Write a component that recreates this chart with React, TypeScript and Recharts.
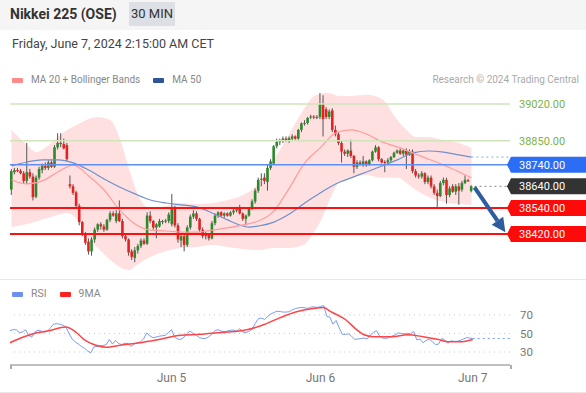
import React from "react";
import { Area, Bar, ComposedChart, Line, ReferenceLine, XAxis, YAxis } from "recharts";

const FONT = "Roboto, 'Liberation Sans', Arial, sans-serif";
const SLOTS = 162; // candle slots incl. empty space to the right of the last bar
const dayTicks = [52, 100, 149];
const dayLabels = ["Jun 5", "Jun 6", "Jun 7"];

// [open, high, low, close]
const ohlc: [number, number, number, number][] = [
  [38625, 38720, 38600, 38710], [38705, 38725, 38695, 38715], [38715, 38725, 38705, 38712], [38712, 38720, 38695, 38700],
  [38700, 38710, 38655, 38665], [38665, 38840, 38650, 38705], [38705, 38720, 38675, 38685], [38685, 38700, 38575, 38590],
  [38592, 38690, 38585, 38680], [38680, 38730, 38670, 38720], [38715, 38745, 38700, 38735], [38735, 38750, 38715, 38725],
  [38725, 38760, 38715, 38750], [38750, 38760, 38725, 38730], [38730, 38830, 38725, 38820], [38820, 38885, 38810, 38840],
  [38840, 38885, 38820, 38835], [38835, 38860, 38810, 38815], [38830, 38840, 38755, 38765], [38650, 38690, 38630, 38640],
  [38640, 38650, 38600, 38610], [38612, 38620, 38540, 38550], [38550, 38560, 38460, 38475], [38475, 38480, 38410, 38420],
  [38420, 38430, 38370, 38380], [38385, 38400, 38325, 38340], [38340, 38405, 38320, 38395], [38395, 38450, 38380, 38440],
  [38440, 38470, 38430, 38465], [38465, 38475, 38440, 38455], [38455, 38465, 38430, 38440], [38440, 38490, 38435, 38485],
  [38485, 38525, 38475, 38515], [38515, 38525, 38500, 38505], [38480, 38530, 38470, 38515], [38515, 38575, 38475, 38480],
  [38480, 38490, 38400, 38410], [38410, 38420, 38385, 38395], [38395, 38400, 38320, 38335], [38340, 38350, 38300, 38315],
  [38310, 38360, 38290, 38345], [38345, 38375, 38330, 38365], [38365, 38400, 38355, 38390], [38390, 38400, 38370, 38375],
  [38375, 38520, 38370, 38505], [38505, 38525, 38470, 38480], [38480, 38485, 38440, 38450], [38450, 38470, 38400, 38465],
  [38455, 38490, 38450, 38480], [38475, 38485, 38465, 38480], [38478, 38490, 38470, 38482], [38480, 38520, 38470, 38510],
  [38465, 38605, 38455, 38540], [38540, 38550, 38450, 38460], [38460, 38470, 38380, 38395], [38390, 38420, 38360, 38410],
  [38410, 38420, 38340, 38370], [38370, 38460, 38360, 38450], [38450, 38510, 38440, 38500], [38500, 38530, 38490, 38515],
  [38515, 38525, 38480, 38490], [38490, 38495, 38430, 38440], [38440, 38450, 38400, 38410], [38410, 38430, 38395, 38420],
  [38420, 38425, 38390, 38400], [38400, 38480, 38395, 38470], [38470, 38515, 38460, 38505], [38505, 38525, 38495, 38520],
  [38520, 38525, 38500, 38505], [38505, 38520, 38495, 38515], [38515, 38520, 38500, 38505], [38505, 38525, 38500, 38520],
  [38520, 38535, 38510, 38528], [38528, 38545, 38520, 38535], [38540, 38555, 38510, 38515], [38515, 38520, 38480, 38490],
  [38490, 38510, 38460, 38505], [38505, 38545, 38500, 38540], [38540, 38580, 38530, 38570], [38570, 38630, 38560, 38620],
  [38620, 38680, 38610, 38670], [38670, 38700, 38640, 38675], [38680, 38700, 38650, 38665], [38660, 38740, 38620, 38725],
  [38725, 38765, 38715, 38755], [38745, 38830, 38740, 38825], [38825, 38860, 38815, 38845], [38845, 38860, 38830, 38848],
  [38848, 38870, 38840, 38860], [38860, 38870, 38845, 38850], [38850, 38870, 38840, 38862], [38860, 38880, 38850, 38870],
  [38870, 38875, 38855, 38860], [38860, 38905, 38855, 38900], [38900, 38935, 38890, 38930], [38930, 38945, 38920, 38932],
  [38932, 38960, 38925, 38955], [38958, 38970, 38950, 38962], [38962, 38968, 38950, 38958], [38958, 38968, 38950, 38960],
  [38960, 39070, 38950, 39020], [39020, 39060, 38870, 38950], [38995, 39005, 38950, 38960], [38960, 38995, 38950, 38985],
  [38990, 39000, 38890, 38900], [38900, 38920, 38870, 38880], [38880, 38890, 38830, 38840], [38840, 38850, 38750, 38800],
  [38800, 38810, 38780, 38790], [38790, 38810, 38775, 38805], [38805, 38855, 38770, 38780], [38780, 38785, 38700, 38730],
  [38730, 38760, 38720, 38750], [38750, 38760, 38735, 38740], [38740, 38780, 38730, 38755], [38755, 38760, 38730, 38740],
  [38740, 38765, 38735, 38760], [38760, 38805, 38755, 38800], [38800, 38830, 38795, 38820], [38820, 38825, 38755, 38765],
  [38765, 38770, 38745, 38750], [38752, 38760, 38705, 38750], [38750, 38770, 38740, 38760], [38760, 38780, 38750, 38775],
  [38775, 38800, 38770, 38795], [38795, 38810, 38790, 38805], [38805, 38815, 38785, 38790], [38790, 38810, 38780, 38805],
  [38805, 38815, 38720, 38785], [38785, 38810, 38780, 38800], [38800, 38810, 38700, 38710], [38710, 38720, 38680, 38690],
  [38690, 38700, 38675, 38685], [38685, 38710, 38675, 38700], [38700, 38705, 38650, 38660], [38660, 38690, 38650, 38680],
  [38680, 38690, 38630, 38640], [38640, 38650, 38600, 38610], [38610, 38625, 38545, 38595], [38595, 38665, 38590, 38655],
  [38655, 38680, 38645, 38670], [38670, 38680, 38560, 38600], [38600, 38640, 38590, 38630], [38640, 38650, 38610, 38615],
  [38615, 38650, 38600, 38640], [38640, 38655, 38555, 38620], [38625, 38665, 38615, 38655], [38655, 38690, 38650, 38670],
  [38668, 38675, 38660, 38665], [38618, 38645, 38612, 38640],
];

// [slot, value]
const ma20: [number, number][] = [
  [0, 38669], [5, 38651], [10, 38665], [15, 38706], [20, 38738], [25, 38688], [30, 38623], [35, 38531],
  [40, 38466], [45, 38438], [50, 38434], [55, 38429], [60, 38429], [65, 38438], [70, 38448], [75, 38462],
  [80, 38480], [85, 38526], [90, 38632], [95, 38748], [100, 38817], [105, 38886], [110, 38900], [115, 38881],
  [120, 38845], [125, 38822], [130, 38794], [135, 38766], [140, 38738], [145, 38706], [149, 38679],
];

const ma50: [number, number][] = [
  [0, 38734], [5, 38752], [10, 38762], [15, 38762], [20, 38748], [25, 38715], [30, 38674], [35, 38637],
  [40, 38605], [45, 38577], [50, 38563], [55, 38554], [60, 38545], [65, 38517], [70, 38485], [75, 38457],
  [77, 38452], [80, 38457], [85, 38475], [90, 38512], [95, 38563], [100, 38609], [105, 38651], [110, 38679],
  [115, 38706], [120, 38734], [125, 38762], [130, 38794], [135, 38803], [140, 38798], [145, 38785], [149, 38775],
];

// [slot, lower, upper]
const bollinger: [number, number, number][] = [
  [0, 38452, 38900], [5, 38466, 38831], [8, 38478, 38798], [12, 38495, 38831], [15, 38508, 38868],
  [18, 38517, 38900], [22, 38475, 38930], [25, 38402, 38951], [28, 38356, 38960], [32, 38300, 38946],
  [35, 38268, 38863], [38, 38254, 38725], [41, 38282, 38600], [45, 38314, 38540], [50, 38342, 38549],
  [55, 38356, 38563], [60, 38360, 38558], [65, 38369, 38563], [70, 38360, 38577], [75, 38351, 38600],
  [80, 38346, 38651], [85, 38356, 38762], [90, 38356, 38882], [95, 38374, 39002], [98, 38429, 39057],
  [100, 38475, 39066], [102, 38540, 39071], [104, 38609, 39066], [106, 38655, 39057], [110, 38679, 39057],
  [115, 38692, 39062], [120, 38679, 39043], [125, 38679, 38946], [128, 38655, 38900], [131, 38623, 38868],
  [135, 38591, 38868], [140, 38568, 38854], [145, 38558, 38840], [149, 38554, 38817],
];

const rsi: number[] = [
  53, 54, 54, 51, 51.5, 54, 48, 46, 51.5, 53.5, 52.5, 51.5, 52, 56, 60, 60.5, 60, 59, 57, 50,
  44, 41, 38.5, 36, 34, 31, 29, 35.5, 36, 36.5, 37, 38, 43.5, 38.5, 42.5, 39, 38, 39.5, 39, 36,
  38.5, 40, 41, 44, 50.5, 47.5, 45.5, 46, 47, 47.5, 48, 51, 54, 46, 44, 43.5, 46, 50, 52.5, 50,
  48, 45.5, 44.5, 44.5, 46.5, 49, 53, 54, 52.5, 52, 52.5, 53.5, 53.5, 52.5, 55, 51.5, 51, 52.5, 54.5, 61,
  66, 66.5, 65, 68.5, 71, 72.5, 74, 73.5, 73, 73, 73.5, 75.5, 77, 77.5, 78, 77.5, 77, 78.5, 78.5, 78,
  79, 80, 68.5, 67.5, 60, 64, 56, 49, 49, 49.5, 47, 43.5, 44, 44.5, 45, 44, 48, 51, 53, 47,
  45, 44.5, 45.5, 47, 48.5, 50.5, 50, 49.5, 50, 49.5, 52, 43, 44, 40, 42.5, 44, 41, 38, 38.5, 44.5,
  43, 39.5, 42, 41.5, 41.5, 42.5, 44, 45.5, 45, 44.5,
];

const rsiMa9: [number, number][] = [
  [0, 40], [5, 47], [9, 51], [12, 52.5], [18, 57], [21, 52], [24, 43], [28, 37], [31, 35], [36, 37.5],
  [42, 40], [48, 43.5], [55, 48], [61, 49], [68, 51], [74, 52.5], [81, 58.5], [87, 67], [92, 73], [96, 76],
  [101, 78], [103, 74], [108, 65], [112, 53], [114, 48.5], [117, 46.5], [123, 46.5], [128, 48.5], [133, 46.5],
  [138, 43.5], [141, 41], [145, 41], [149, 43.5],
];

const levels = [
  { v: 39020, line: "#cfe4b8", text: "#7cb342", box: "" },
  { v: 38850, line: "#cfe4b8", text: "#7cb342", box: "" },
  { v: 38740, line: "#5b8ff0", text: "#fff", box: "#2b6ef5" },
  { v: 38640, line: "", text: "#fff", box: "#333333" },
  { v: 38540, line: "#ff1010", text: "#fff", box: "#ff0a0a" },
  { v: 38420, line: "#ff1010", text: "#fff", box: "#ff0a0a" },
];

type Row = { i: number; [k: string]: any };
const rows: Row[] = Array.from({ length: SLOTS }, (_, i) => {
  const c = ohlc[i];
  return {
    i,
    range: c ? [c[2], c[1]] : null,
    o: c ? c[0] : null,
    h: c ? c[1] : null,
    l: c ? c[2] : null,
    c: c ? c[3] : null,
    rsi: i < rsi.length ? rsi[i] : null,
    ma20: null,
    ma50: null,
    band: null,
    rsiMa: null,
  };
});
ma20.forEach(([i, v]) => (rows[i].ma20 = v));
ma50.forEach(([i, v]) => (rows[i].ma50 = v));
bollinger.forEach(([i, lo, hi]) => (rows[i].band = [lo, hi]));
rsiMa9.forEach(([i, v]) => (rows[i].rsiMa = v));

function Candle(props: any) {
  const { x, y, width, height, payload } = props;
  if (!payload || payload.o == null) return null;
  const { o, h, l, c } = payload;
  const k = h - l > 0 ? height / (h - l) : 0;
  const cx = x + width / 2;
  const top = y + (h - Math.max(o, c)) * k;
  const bot = y + (h - Math.min(o, c)) * k;
  return (
    <g>
      <line x1={cx} x2={cx} y1={y} y2={y + height} stroke="#555" strokeWidth={1} />
      <rect x={cx - 1.3} y={top} width={2.6} height={Math.max(bot - top, 1)} fill={c >= o ? "#2c8a2c" : "#e32222"} />
    </g>
  );
}

function PriceTick(props: any) {
  const { x, y, payload } = props;
  const lv = levels.find((l) => l.v === payload.value);
  if (!lv) return null;
  const label = payload.value.toFixed(2);
  return (
    <g>
      {lv.box && (
        <path d={`M${x - 3},${y} L${x + 1},${y - 8} L586,${y - 8} L586,${y + 8} L${x + 1},${y + 8} Z`} fill={lv.box} />
      )}
      <text x={x + 9} y={y} dy={4} fill={lv.text} fontSize={11} fontFamily={FONT}>
        {label}
      </text>
    </g>
  );
}

function Arrow(props: any) {
  const { x1, y1, x2, y2 } = props;
  const ang = Math.atan2(y2 - y1, x2 - x1);
  const len = 14;
  const bx = x2 - len * Math.cos(ang);
  const by = y2 - len * Math.sin(ang);
  const px = 7 * Math.sin(ang);
  const py = -7 * Math.cos(ang);
  return (
    <g>
      <line x1={x1} y1={y1} x2={bx} y2={by} stroke="#2f5c9e" strokeWidth={4} />
      <path d={`M${x2},${y2} L${bx + px},${by + py} L${bx - px},${by - py} Z`} fill="#2f5c9e" />
    </g>
  );
}

const swatch = (color: string) => (
  <span style={{ display: "inline-block", width: 11, height: 5, background: color, borderRadius: 1, marginRight: 8, verticalAlign: "middle" }} />
);

export default function App() {
  return (
    <div style={{ position: "absolute", left: 0, top: 0, width: 586, height: 393, background: "#fff", fontFamily: FONT, overflow: "hidden" }}>
      <div style={{ position: "absolute", left: 0, top: 0, width: 586, height: 30, background: "#f5f5f5" }} />
      <div style={{ position: "absolute", left: 10, top: 6, fontSize: 14, fontWeight: 700, color: "#333" }}>Nikkei 225 (OSE)</div>
      <div style={{ position: "absolute", left: 129, top: 2, width: 46, height: 24, background: "#dcdfe4", color: "#333", fontSize: 13, lineHeight: "24px", textAlign: "center" }}>30 MIN</div>
      <div style={{ position: "absolute", left: 12, top: 36, fontSize: 12.5, color: "#444" }}>Friday, June 7, 2024 2:15:00 AM CET</div>

      <div style={{ position: "absolute", left: 12, top: 74, fontSize: 10, color: "#888", whiteSpace: "nowrap" }}>
        {swatch("#ff8a8a")}MA 20 + Bollinger Bands
        <span style={{ display: "inline-block", width: 13 }} />
        {swatch("#2f5597")}MA 50
      </div>
      <div style={{ position: "absolute", right: 7, top: 74, fontSize: 10, color: "#aaa" }}>Research © 2024 Trading Central</div>

      <div style={{ position: "absolute", left: 0, top: 82 }}>
        <ComposedChart width={586} height={203} data={rows} margin={{ top: 10, right: 0, bottom: 10, left: 10 }}>
          <XAxis dataKey="i" type="category" hide />
          <YAxis
            orientation="right"
            domain={[38231, 39075]}
            allowDataOverflow
            ticks={levels.map((l) => l.v)}
            interval={0}
            width={76}
            tickSize={0}
            tickMargin={0}
            axisLine={false}
            tickLine={false}
            tick={(p: any) => <PriceTick {...p} />}
          />
          <Area dataKey="band" type="monotone" stroke="none" fill="#ff0000" fillOpacity={0.12} connectNulls isAnimationActive={false} />
          <Line dataKey="ma50" type="monotone" stroke="#6f8fcc" strokeWidth={1.2} dot={false} connectNulls isAnimationActive={false} />
          <Line dataKey="ma20" type="monotone" stroke="#ff9c9c" strokeWidth={1.2} dot={false} connectNulls isAnimationActive={false} />
          <Bar dataKey="range" shape={(p: any) => <Candle {...p} />} isAnimationActive={false} />
          {levels
            .filter((l) => l.line)
            .map((l) => (
              <ReferenceLine key={l.v} y={l.v} stroke={l.line} strokeWidth={l.box === "#ff0a0a" ? 2 : 1.5} />
            ))}
          <ReferenceLine segment={[{ x: 149, y: 38775 }, { x: 161, y: 38775 }]} stroke="#8aa6d8" strokeDasharray="2 3" />
          <ReferenceLine segment={[{ x: 150, y: 38640 }, { x: 161, y: 38640 }]} stroke="#888" strokeDasharray="2 3" />
          <ReferenceLine segment={[{ x: 150, y: 38635 }, { x: 160, y: 38428 }]} shape={(p: any) => <Arrow {...p} />} />
        </ComposedChart>
      </div>

      <div style={{ position: "absolute", left: 0, top: 279, width: 586, height: 1, background: "#e8e8e8" }} />
      <div style={{ position: "absolute", left: 12, top: 287, fontSize: 10.5, color: "#888", whiteSpace: "nowrap" }}>
        {swatch("#6d8ff0")}RSI
        <span style={{ display: "inline-block", width: 13 }} />
        {swatch("#ff2020")}9MA
      </div>

      <div style={{ position: "absolute", left: 0, top: 290 }}>
        <ComposedChart width={586} height={100} data={rows} margin={{ top: 10, right: 0, bottom: 0, left: 10 }}>
          <XAxis
            dataKey="i"
            type="category"
            ticks={dayTicks}
            interval={0}
            tickFormatter={(v: number) => dayLabels[dayTicks.indexOf(v)] ?? ""}
            tickLine={false}
            axisLine={{ stroke: "#aaa", strokeWidth: 1.5 }}
            tick={{ fill: "#777", fontSize: 12, fontFamily: FONT }}
            height={25}
          />
          <YAxis
            orientation="right"
            domain={[16, 86]}
            ticks={[30, 50, 70]}
            interval={0}
            width={76}
            tickSize={0}
            tickMargin={10}
            axisLine={false}
            tickLine={false}
            tick={{ fill: "#777", fontSize: 11.5, fontFamily: FONT, textAnchor: "start" }}
          />
          {[30, 50, 70].map((v) => (
            <ReferenceLine key={v} y={v} stroke="#c8c8c8" strokeDasharray="1 4" />
          ))}
          <Line dataKey="rsi" type="linear" stroke="#7b9cf2" strokeWidth={1} dot={false} isAnimationActive={false} />
          <Line dataKey="rsiMa" type="monotone" stroke="#ff4545" strokeWidth={1.5} dot={false} connectNulls isAnimationActive={false} />
          <ReferenceLine segment={[{ x: 149, y: 44.5 }, { x: 161, y: 44.5 }]} stroke="#7b9cf2" strokeDasharray="2 3" />
        </ComposedChart>
      </div>
      <div style={{ position: "absolute", left: 10, top: 365, width: 498, height: 4, borderLeft: "2px solid #aaa", borderRight: "2px solid #aaa" }} />
      <div style={{ position: "absolute", left: 0, top: 392, width: 586, height: 1, background: "#e8e8e8" }} />
    </div>
  );
}
